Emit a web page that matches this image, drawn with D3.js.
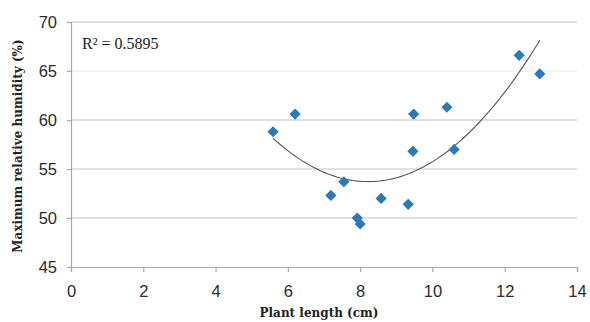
<!DOCTYPE html>
<html>
<head>
<meta charset="utf-8">
<script src="https://cdn.jsdelivr.net/npm/d3@7"></script>
<style>
  html, body { margin: 0; padding: 0; background: #fff; }
  svg { display: block; }
</style>
</head>
<body>
<svg id="chart" width="590" height="322"></svg>
<script>
// Plant length (cm) vs maximum relative humidity (%)
const plantLength = [5.59, 6.2, 7.19, 7.55, 7.92, 8.0, 8.58, 9.33, 9.48, 9.46, 10.4, 10.6, 12.4, 12.97];
const humidity    = [58.8, 60.6, 52.3, 53.7, 50.0, 49.4, 52.0, 51.4, 60.6, 56.8, 61.3, 57.0, 66.6, 64.7];
const xTicks = [0, 2, 4, 6, 8, 10, 12, 14];
const yTicks = [45, 50, 55, 60, 65, 70];
const rSquaredLabel = "R² = 0.5895";

const svg = d3.select("#chart");

const plotLeft = 71, plotRight = 577, plotTop = 22, plotBottom = 267;

const x = d3.scaleLinear().domain([0, 14]).range([plotLeft, plotRight]);
const y = d3.scaleLinear().domain([45, 70]).range([plotBottom, plotTop]);

// ── Gridlines ───────────────────────────────────────────────────────────
svg.append("g")
  .selectAll("line")
  .data(yTicks.filter(t => t > 45))
  .enter().append("line")
  .attr("x1", plotLeft).attr("x2", plotRight)
  .attr("y1", d => y(d)).attr("y2", d => y(d))
  .attr("stroke", d => d === 65 ? "#e8e8e8" : "#c4c4c4")
  .attr("stroke-width", 1.2);

// ── Axes ────────────────────────────────────────────────────────────────
const xAxis = svg.append("g")
  .attr("transform", `translate(0,${plotBottom})`)
  .call(d3.axisBottom(x).tickValues(xTicks).tickSize(5).tickPadding(13).tickFormat(d3.format("d")));

const yAxis = svg.append("g")
  .attr("transform", `translate(${plotLeft},0)`)
  .call(d3.axisLeft(y).tickValues(yTicks).tickSize(4).tickPadding(10).tickFormat(d3.format("d")));

[xAxis, yAxis].forEach(a => {
  a.select(".domain").attr("stroke", "#a8a8a8").attr("stroke-width", 1.2);
  a.selectAll(".tick line").attr("stroke", "#a8a8a8").attr("stroke-width", 1.2);
  a.selectAll(".tick text")
    .attr("fill", "#2b2b2b")
    .style("font-family", "'Liberation Sans', Arial, sans-serif")
    .style("font-size", "16.5px");
});

// ── Trend line (order-2 polynomial least squares) ────────────────────────
function polyFit2(xs, ys) {
  const n = xs.length;
  let s = [0, 0, 0, 0, 0], t = [0, 0, 0];
  for (let i = 0; i < n; i++) {
    let p = 1;
    for (let k = 0; k < 5; k++) { s[k] += p; if (k < 3) t[k] += p * ys[i]; p *= xs[i]; }
  }
  const M = [[s[0], s[1], s[2], t[0]], [s[1], s[2], s[3], t[1]], [s[2], s[3], s[4], t[2]]];
  for (let c = 0; c < 3; c++) {
    for (let r = c + 1; r < 3; r++) {
      const f = M[r][c] / M[c][c];
      for (let k = c; k < 4; k++) M[r][k] -= f * M[c][k];
    }
  }
  const b = [0, 0, 0];
  for (let r = 2; r >= 0; r--) {
    let v = M[r][3];
    for (let k = r + 1; k < 3; k++) v -= M[r][k] * b[k];
    b[r] = v / M[r][r];
  }
  return b;
}

const coef = polyFit2(plantLength, humidity);
const [xMin, xMax] = d3.extent(plantLength);
const curve = d3.range(0, 101).map(i => {
  const xv = xMin + (xMax - xMin) * i / 100;
  return [xv, coef[0] + coef[1] * xv + coef[2] * xv * xv];
});

svg.append("path")
  .datum(curve)
  .attr("fill", "none")
  .attr("stroke", "#555")
  .attr("stroke-width", 1.1)
  .attr("d", d3.line().x(d => x(d[0])).y(d => y(d[1])));

// ── Points ──────────────────────────────────────────────────────────────
svg.append("g")
  .selectAll("path")
  .data(plantLength.map((v, i) => [v, humidity[i]]))
  .enter().append("path")
  .attr("d", d3.symbol(d3.symbolDiamond2, 80))
  .attr("transform", d => `translate(${x(d[0])},${y(d[1])})`)
  .attr("fill", "#2a7ab8");

// ── Labels ──────────────────────────────────────────────────────────────
svg.append("text")
  .attr("x", 82).attr("y", 49)
  .attr("fill", "#222")
  .style("font-family", "'Liberation Serif', 'Times New Roman', serif")
  .style("font-size", "16px")
  .text(rSquaredLabel);

svg.append("text")
  .attr("x", 319).attr("y", 317)
  .attr("text-anchor", "middle")
  .attr("fill", "#222")
  .style("font-family", "'DejaVu Serif', serif")
  .style("font-weight", "bold")
  .style("font-size", "12px")
  .text("Plant length (cm)");

svg.append("text")
  .attr("transform", `translate(22,146) rotate(-90)`)
  .attr("text-anchor", "middle")
  .attr("fill", "#222")
  .style("font-family", "'DejaVu Serif', serif")
  .style("font-weight", "bold")
  .style("font-size", "12px")
  .text("Maximum relative humidity (%)");
</script>
</body>
</html>
